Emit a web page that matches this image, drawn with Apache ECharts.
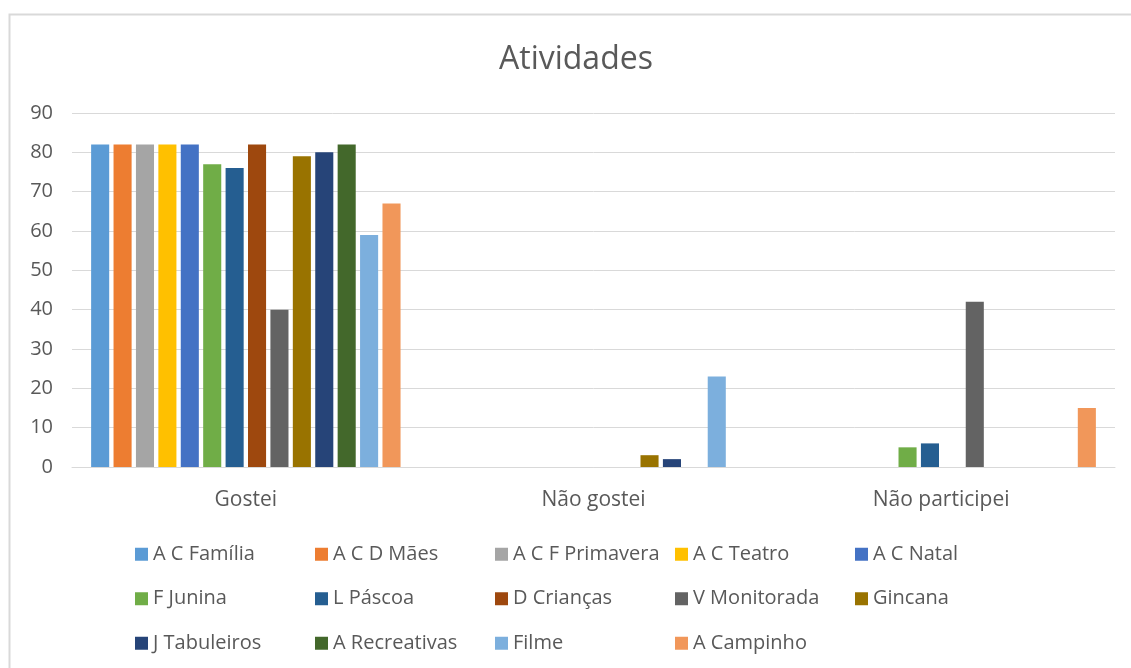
<!DOCTYPE html>
<html>
<head>
<meta charset="utf-8">
<script src="https://cdn.jsdelivr.net/npm/echarts@6/dist/echarts.min.js"></script>
<style>html,body{margin:0;padding:0;background:#fff}#c{width:1131px;height:668px}</style>
</head>
<body>
<div id="c"></div>
<script>
const categories = ['Gostei', 'Não gostei', 'Não participei'];
const seriesNames = ['A C Família', 'A C D Mães', 'A C F Primavera', 'A C Teatro', 'A C Natal',
  'F Junina', 'L Páscoa', 'D Crianças', 'V Monitorada', 'Gincana',
  'J Tabuleiros', 'A Recreativas', 'Filme', 'A Campinho'];
const acFamilia = [82, 0, 0];
const acdMaes = [82, 0, 0];
const acfPrimavera = [82, 0, 0];
const acTeatro = [82, 0, 0];
const acNatal = [82, 0, 0];
const fJunina = [77, 0, 5];
const lPascoa = [76, 0, 6];
const dCriancas = [82, 0, 0];
const vMonitorada = [40, 0, 42];
const gincana = [79, 3, 0];
const jTabuleiros = [80, 2, 0];
const aRecreativas = [82, 0, 0];
const filme = [59, 23, 0];
const aCampinho = [67, 0, 15];
const yTicks = [0, 10, 20, 30, 40, 50, 60, 70, 80, 90];

const seriesValues = [acFamilia, acdMaes, acfPrimavera, acTeatro, acNatal, fJunina, lPascoa,
  dCriancas, vMonitorada, gincana, jTabuleiros, aRecreativas, filme, aCampinho];
const colors = ['#5B9BD5', '#ED7D31', '#A5A5A5', '#FFC000', '#4472C4', '#70AD47', '#255E91',
  '#9E480E', '#636363', '#997300', '#264478', '#43682B', '#7CAFDD', '#F1975A'];

const font = 'Open Sans';
const chart = echarts.init(document.getElementById('c'));
chart.setOption({
  animation: false,
  color: colors,
  title: {
    text: 'Atividades',
    left: 499,
    top: 44,
    padding: 0,
    textStyle: { fontFamily: font, fontSize: 32, fontWeight: 'normal', color: '#595959' }
  },
  graphic: [{
    type: 'rect',
    shape: { x: 9.5, y: 14.5, width: 1200, height: 700 },
    style: { fill: 'none', stroke: '#D9D9D9', lineWidth: 2 },
    silent: true, z: -10
  }],
  legend: {
    left: 135,
    top: 532,
    width: 910,
    padding: 0,
    itemGap: 0,
    itemWidth: 13,
    itemHeight: 13,
    icon: 'rect',
    data: seriesNames,
    textStyle: { fontFamily: font, fontSize: 20, color: '#595959', width: 162, lineHeight: 44.5, padding: [0, 0, 0, 0] }
  },
  grid: { left: 72, right: 16, top: 113, bottom: 201, containLabel: false },
  xAxis: {
    type: 'category',
    data: categories,
    axisLine: { show: true, lineStyle: { color: '#D9D9D9', width: 1 } },
    axisTick: { show: false },
    axisLabel: { fontFamily: font, fontSize: 21, color: '#595959', margin: 23 }
  },
  yAxis: {
    type: 'value',
    min: yTicks[0],
    max: yTicks[yTicks.length - 1],
    interval: 10,
    axisLine: { show: false },
    axisTick: { show: false },
    splitLine: { lineStyle: { color: '#D9D9D9', width: 1 } },
    axisLabel: { fontFamily: font, fontSize: 20, color: '#595959', margin: 19 }
  },
  series: seriesNames.map((name, i) => ({
    name: name,
    type: 'bar',
    data: seriesValues[i],
    barGap: '24%',
    barCategoryGap: '11%',
    itemStyle: { borderWidth: 0 }
  }))
});
</script>
</body>
</html>
